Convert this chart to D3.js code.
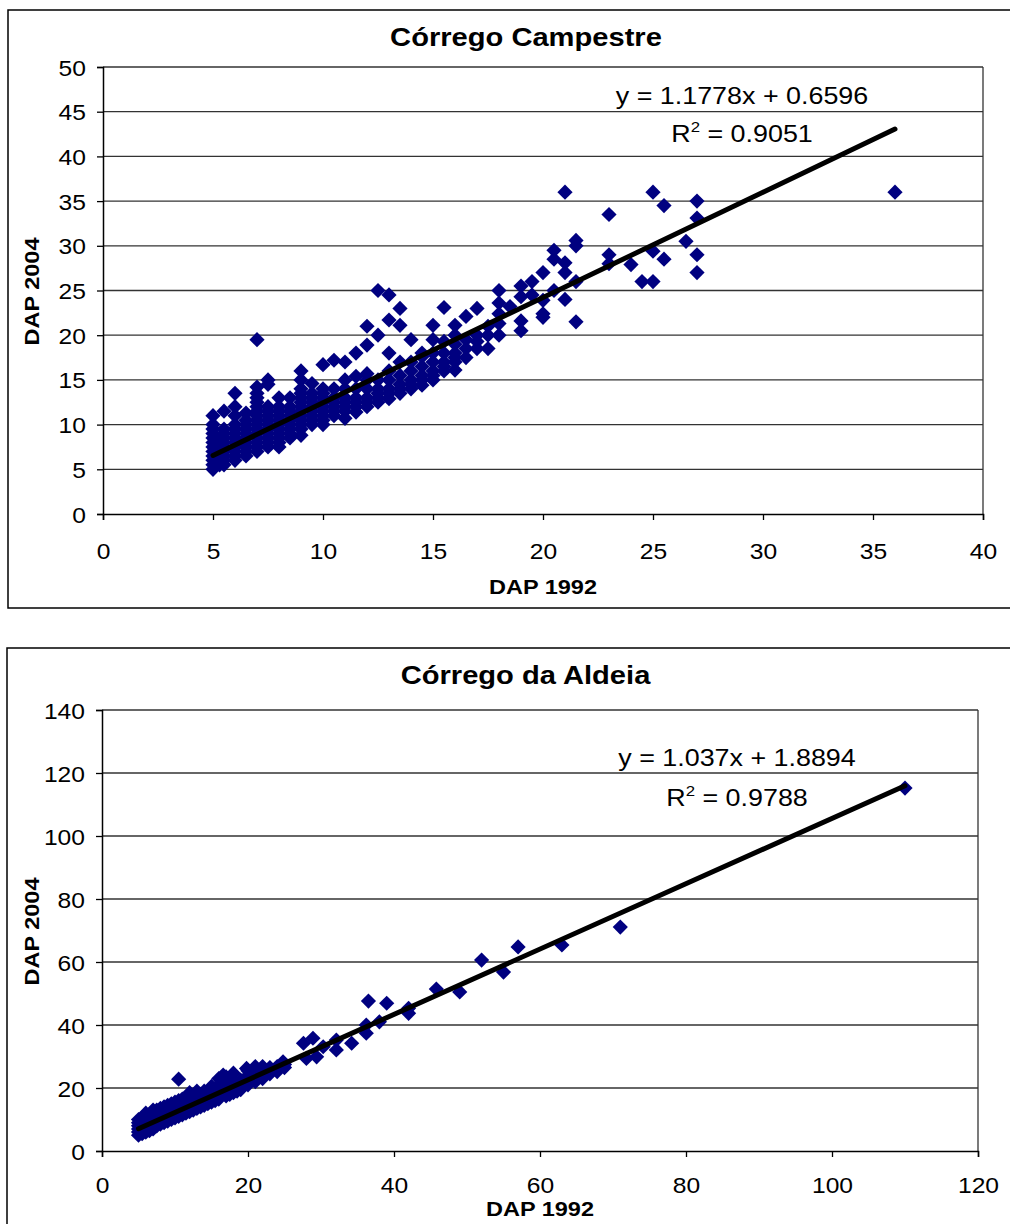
<!DOCTYPE html>
<html>
<head>
<meta charset="utf-8">
<script src="https://cdn.jsdelivr.net/npm/d3@7"></script>
<style>
  body { margin: 0; background: #fff; }
  text { font-family: Arial, "Liberation Sans", sans-serif; fill: #000; }
</style>
</head>
<body>
<script>
const width = 1010;
const height = 1224;

// Córrego Campestre: [DAP 1992, DAP 2004]
const campestre = [
  [5,5],[5,5.5],[5,6],[5,6.5],[5,7],[5,7.5],[5,8],[5,8.5],[5,9],[5,9.5],[5,10],[5,11],
  [5.3,5.5],[5.3,6.5],[5.3,7.5],[5.3,8.5],
  [5.5,5.5],[5.5,6],[5.5,6.5],[5.5,7],[5.5,7.5],[5.5,8],[5.5,8.5],[5.5,9],[5.5,9.5],[5.5,11.5],
  [6,6],[6,6.5],[6,7],[6,7.5],[6,8],[6,8.5],[6,9],[6,9.5],[6,10],[6,11],[6,12],[6,13.5],
  [6.5,6.5],[6.5,7],[6.5,7.5],[6.5,8],[6.5,8.5],[6.5,9],[6.5,9.5],[6.5,10],[6.5,10.5],[6.5,11.3],
  [7,7],[7,7.5],[7,8],[7,8.5],[7,9],[7,9.5],[7,10],[7,10.5],[7,11],[7,11.5],[7,12],[7,12.5],[7,13],[7,13.5],[7,14.2],[7,19.5],
  [7.5,7.5],[7.5,8],[7.5,8.5],[7.5,9],[7.5,9.5],[7.5,10],[7.5,10.5],[7.5,11],[7.5,11.5],[7.5,12],[7.5,14.5],[7.5,15],
  [8,7.5],[8,8],[8,8.5],[8,9],[8,9.5],[8,10],[8,10.5],[8,11],[8,11.5],[8,12],[8,13],
  [8.5,8.5],[8.5,9],[8.5,9.5],[8.5,10],[8.5,10.5],[8.5,11],[8.5,11.5],[8.5,12],[8.5,13],
  [9,8.8],[9,9.5],[9,10],[9,10.5],[9,11],[9,11.5],[9,12],[9,12.5],[9,13],[9,13.5],[9,14],[9,15],[9,16],
  [9.5,10],[9.5,10.5],[9.5,11],[9.5,11.5],[9.5,12],[9.5,12.5],[9.5,13],[9.5,13.5],[9.5,14.6],
  [10,10],[10,10.5],[10,11],[10,11.5],[10,12],[10,12.5],[10,13],[10,13.5],[10,14],[10,16.7],
  [10.5,11],[10.5,11.5],[10.5,12],[10.5,12.5],[10.5,13],[10.5,14],[10.5,17.2],
  [11,10.7],[11,11.5],[11,12],[11,12.5],[11,13],[11,14],[11,15],[11,17],
  [11.5,11.4],[11.5,12],[11.5,12.5],[11.5,13],[11.5,14],[11.5,15.4],[11.5,18],
  [12,12],[12,12.5],[12,13],[12,14],[12,15],[12,15.7],[12,18.9],[12,21],
  [12.5,12.5],[12.5,13],[12.5,13.5],[12.5,14],[12.5,15],[12.5,20],[12.5,25],
  [13,12.9],[13,13.5],[13,14],[13,15],[13,16],[13,18],[13,21.7],[13,24.5],
  [13.5,13.5],[13.5,14],[13.5,14.5],[13.5,15.5],[13.5,17],[13.5,21.1],[13.5,23],
  [14,14],[14,14.5],[14,15],[14,16],[14,17],[14,19.5],
  [14.5,14.4],[14.5,15],[14.5,15.5],[14.5,16.5],[14.5,17.6],[14.5,18],
  [15,15],[15,15.5],[15,16],[15,17],[15,18],[15,19.5],[15,21.1],
  [15.5,16],[15.5,16.5],[15.5,17],[15.5,18],[15.5,19.3],[15.5,23.1],
  [16,16.1],[16,17],[16,17.5],[16,18],[16,19],[16,20],[16,21.1],
  [16.5,17.5],[16.5,18.5],[16.5,19.5],[16.5,22.1],
  [17,18.5],[17,19.3],[17,20],[17,23],
  [17.5,18.5],[17.5,20],[17.5,21],
  [18,20],[18,21.3],[18,22.4],[18,23.6],[18,25],
  [18.5,23.2],
  [19,20.5],[19,21.6],[19,24.3],[19,25.5],
  [19.5,24.5],[19.5,26],
  [20,22],[20,22.4],[20,23.9],[20,27],
  [20.5,25],[20.5,28.5],[20.5,29.5],
  [21,24],[21,27],[21,28.1],[21,36],
  [21.5,21.5],[21.5,26],[21.5,30],[21.5,30.6],
  [23,28],[23,29],[23,33.5],
  [24,27.9],[24.5,26],
  [25,26],[25,29.4],[25,36],
  [25.5,28.5],[25.5,34.5],
  [26.5,30.5],
  [27,27],[27,29],[27,33.1],[27,35],
  [36,36]
];

// Córrego da Aldeia: [DAP 1992, DAP 2004]
const aldeia = [
  [5,5],[5,6],[5,7],[5,8],[5,9],[5,10],
  [5.5,5.5],[5.5,6.5],[5.5,7.5],[5.5,8.5],[5.5,9.5],[5.5,10.5],
  [6,6],[6,7],[6,8],[6,9],[6,10],[6,11],[6,12],
  [6.5,6.5],[6.5,7.5],[6.5,8.5],[6.5,9.5],[6.5,10.5],[6.5,11.5],
  [7,7],[7,8],[7,9],[7,10],[7,11],[7,12],[7,13],
  [7.5,8],[7.5,9],[7.5,10],[7.5,11],[7.5,12],[7.5,13],
  [8,8.5],[8,9.5],[8,10.5],[8,11.5],[8,12.5],[8,13.5],
  [8.5,9],[8.5,10],[8.5,11],[8.5,12],[8.5,13],[8.5,14],
  [9,9.5],[9,10.5],[9,11.5],[9,12.5],[9,13.5],[9,14.5],
  [9.5,10],[9.5,11],[9.5,12],[9.5,13],[9.5,14],[9.5,15],
  [10,10.5],[10,11.5],[10,12.5],[10,13.5],[10,14.5],[10,15.5],
  [10.5,11],[10.5,12],[10.5,13],[10.5,14],[10.5,15],[10.5,16],[10.5,22.8],
  [11,11.5],[11,12.5],[11,13.5],[11,14.5],[11,15.5],[11,16.5],
  [11.5,12],[11.5,13],[11.5,14],[11.5,15],[11.5,16],[11.5,17],
  [12,12.5],[12,13.5],[12,14.5],[12,15.5],[12,16.5],[12,17.5],[12,18.5],
  [12.5,13],[12.5,14],[12.5,15],[12.5,16],[12.5,17],
  [13,13.5],[13,14.5],[13,15.5],[13,16.5],[13,17.5],[13,19],
  [13.5,14],[13.5,15],[13.5,16],[13.5,17],[13.5,18],
  [14,14.5],[14,15.5],[14,16.5],[14,17.5],[14,18.5],[14,19],
  [14.5,15],[14.5,16],[14.5,17],[14.5,18],
  [15,15.5],[15,16.5],[15,17.5],[15,18.5],[15,19.5],[15,20.5],
  [15.5,16],[15.5,17],[15.5,18],[15.5,19],
  [16,16.5],[16,17.5],[16,18.5],[16,19.5],[16,21],[16,23],[16.6,24.1],
  [17,17.5],[17,18.5],[17,19.5],[17,20.5],[17,22],[17,23.5],
  [17.5,18],[17.5,19],[17.5,20],[17.5,21],
  [18,18.5],[18,19.5],[18,20.5],[18,22],[18,24.7],
  [18.5,19],[18.5,20],[18.5,21],
  [19,19.5],[19,20.5],[19,21.5],[19,22.5],
  [19.8,26.2],
  [20,21],[20,22],[20,23],[20,24],[20,25.5],
  [21,22],[21,23],[21,24],[21,26.8],
  [22,23],[22,24.1],[22,25],[22,26.8],
  [23,24.5],[23,25.5],[23,26.5],
  [24,25.2],[24,26.8],
  [25,26.5],[25,27.5],[24.8,28.3],
  [27.6,34.2],[28,29.4],[28.9,35.8],[29.4,29.9],[30.3,33.1],
  [32.1,35.2],[32.1,32.1],[34.2,34.2],
  [36.2,37.4],[36.2,40],[36.5,47.6],[38,41],[39,46.9],
  [42,43.7],[42,45.3],[45.8,51.4],[49,50.5],
  [52,60.6],[55,56.8],[57,64.8],[63,65.4],[71,71.1],
  [110,115.2]
];

// trend lines as reported by the spreadsheet
const campestreFit = { slope: 1.1778, intercept: 0.6596, r2: "0.9051", xMin: 5, xMax: 36 };
const aldeiaFit = { slope: 1.037, intercept: 1.8894, r2: "0.9788", xMin: 5, xMax: 110 };

const campestreXTicks = [0, 5, 10, 15, 20, 25, 30, 35, 40];
const campestreYTicks = [0, 5, 10, 15, 20, 25, 30, 35, 40, 45, 50];
const aldeiaXTicks = [0, 20, 40, 60, 80, 100, 120];
const aldeiaYTicks = [0, 20, 40, 60, 80, 100, 120, 140];

// the original chart is stretched a little horizontally
const stretch = 1.12;

const svg = d3.select("body")
    .append("svg")
    .attr("width", width)
    .attr("height", height);

drawChart({
    title: "Córrego Campestre",
    data: campestre,
    fit: campestreFit,
    equation: "y = 1.1778x + 0.6596",
    xTicks: campestreXTicks,
    yTicks: campestreYTicks,
    frame: { x: 8, y: 10, w: 1010, h: 598 },
    plot: { left: 103, right: 983, top: 67, bottom: 514 },
    titleY: 46,
    xTickY: 559,
    xLabelY: 594,
    eqX: 742, eqY: 104, r2Y: 142
});

drawChart({
    title: "Córrego da Aldeia",
    data: aldeia,
    fit: aldeiaFit,
    equation: "y = 1.037x + 1.8894",
    xTicks: aldeiaXTicks,
    yTicks: aldeiaYTicks,
    frame: { x: 7, y: 648, w: 1010, h: 590 },
    plot: { left: 102, right: 978, top: 710, bottom: 1151 },
    titleY: 684,
    xTickY: 1193,
    xLabelY: 1216,
    eqX: 737, eqY: 766, r2Y: 806
});

function placeText(sel, x, y, extra) {
    sel.attr("x", 0).attr("y", 0)
        .attr("transform", `translate(${x},${y})${extra || ""} scale(${stretch},1)`);
    return sel;
}

function drawChart(c) {
    const g = svg.append("g");

    g.append("rect")
        .attr("x", c.frame.x)
        .attr("y", c.frame.y)
        .attr("width", c.frame.w)
        .attr("height", c.frame.h)
        .attr("fill", "#fff")
        .attr("stroke", "#000")
        .attr("stroke-width", 1.5);

    const x = d3.scaleLinear()
        .domain(d3.extent(c.xTicks))
        .range([c.plot.left, c.plot.right]);
    const y = d3.scaleLinear()
        .domain(d3.extent(c.yTicks))
        .range([c.plot.bottom, c.plot.top]);

    // gridlines
    g.append("g")
        .selectAll("line")
        .data(c.yTicks.slice(1))
        .enter()
        .append("line")
        .attr("x1", c.plot.left)
        .attr("x2", c.plot.right)
        .attr("y1", d => y(d))
        .attr("y2", d => y(d))
        .attr("stroke", "#333")
        .attr("stroke-width", 1.3);

    // right edge of the plot area
    g.append("line")
        .attr("x1", c.plot.right).attr("x2", c.plot.right)
        .attr("y1", c.plot.top).attr("y2", c.plot.bottom)
        .attr("stroke", "#333")
        .attr("stroke-width", 1.3);

    // axes
    const yAxis = d3.axisLeft(y).tickValues(c.yTicks).tickSize(6);
    const xAxis = d3.axisBottom(x).tickValues(c.xTicks).tickSize(6);

    const yg = g.append("g")
        .attr("transform", `translate(${c.plot.left},0)`)
        .call(yAxis);
    const xg = g.append("g")
        .attr("transform", `translate(0,${c.plot.bottom})`)
        .call(xAxis);

    [yg, xg].forEach(a => {
        a.select(".domain").attr("stroke", "#000").attr("stroke-width", 1.5);
        a.selectAll(".tick line").attr("stroke", "#000").attr("stroke-width", 1.3);
        a.selectAll(".tick text")
            .style("font-family", "Arial, 'Liberation Sans', sans-serif")
            .style("font-size", "22px")
            .attr("fill", "#000")
            .attr("dy", null);
    });
    yg.selectAll(".tick text").each(function() {
        placeText(d3.select(this), -17, 8);
    });
    xg.selectAll(".tick text").each(function() {
        placeText(d3.select(this), 0, c.xTickY - c.plot.bottom);
    });

    // markers
    const half = 7.6;
    g.append("g")
        .selectAll("path")
        .data(c.data)
        .enter()
        .append("path")
        .attr("transform", d => `translate(${x(d[0])},${y(d[1])})`)
        .attr("d", `M0,${-half}L${half},0L0,${half}L${-half},0Z`)
        .attr("fill", "#000080");

    // trend line
    g.append("line")
        .attr("x1", x(c.fit.xMin))
        .attr("y1", y(c.fit.slope * c.fit.xMin + c.fit.intercept))
        .attr("x2", x(c.fit.xMax))
        .attr("y2", y(c.fit.slope * c.fit.xMax + c.fit.intercept))
        .attr("stroke", "#000")
        .attr("stroke-width", 5)
        .attr("stroke-linecap", "round");

    // titles
    placeText(g.append("text"), (c.frame.x + 1010) / 2 + 17, c.titleY)
        .attr("text-anchor", "middle")
        .style("font-size", "26px")
        .style("font-weight", "bold")
        .text(c.title);

    placeText(g.append("text"), (c.plot.left + c.plot.right) / 2, c.xLabelY)
        .attr("text-anchor", "middle")
        .style("font-size", "21px")
        .style("font-weight", "bold")
        .text("DAP 1992");

    placeText(g.append("text"), 39, (c.plot.top + c.plot.bottom) / 2 + 1, " rotate(-90)")
        .attr("text-anchor", "middle")
        .style("font-size", "21px")
        .style("font-weight", "bold")
        .text("DAP 2004");

    // equation
    placeText(g.append("text"), c.eqX, c.eqY)
        .attr("text-anchor", "middle")
        .style("font-size", "24px")
        .text(c.equation);

    const r2 = placeText(g.append("text"), c.eqX, c.r2Y)
        .attr("text-anchor", "middle")
        .style("font-size", "24px");
    r2.append("tspan").text("R");
    r2.append("tspan").attr("dy", -10).style("font-size", "15px").text("2");
    r2.append("tspan").attr("dy", 10).text(" = " + c.fit.r2);
}
</script>
</body>
</html>
